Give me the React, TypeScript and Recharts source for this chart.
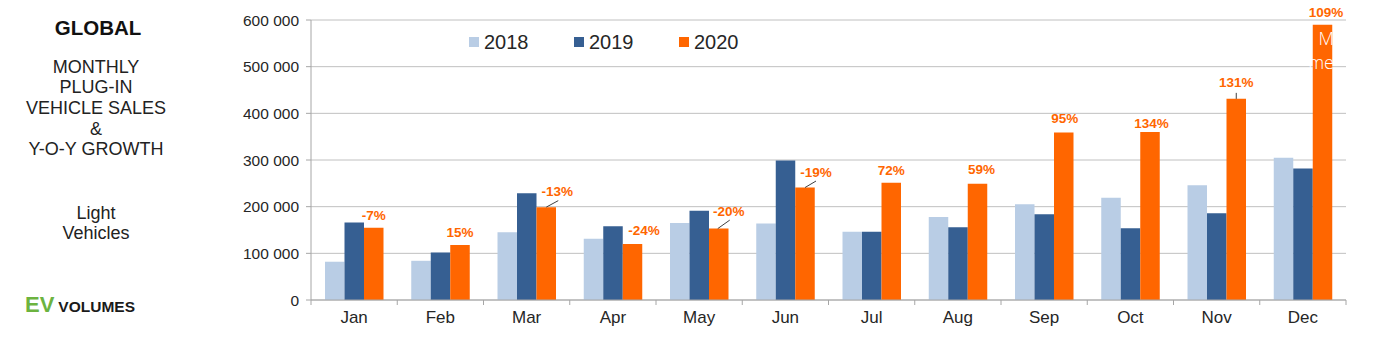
import React from 'react';
import { BarChart, Bar, XAxis, YAxis, CartesianGrid, LabelList } from 'recharts';

const months = ['Jan', 'Feb', 'Mar', 'Apr', 'May', 'Jun', 'Jul', 'Aug', 'Sep', 'Oct', 'Nov', 'Dec'];
const sales2018 = [82000, 84000, 145000, 131000, 165000, 164000, 146000, 178000, 205000, 219000, 246000, 305000];
const sales2019 = [166000, 102000, 229000, 158000, 191000, 299000, 146000, 156000, 184000, 154000, 186000, 282000];
const sales2020 = [155000, 118000, 199000, 120000, 153000, 241000, 251000, 249000, 359000, 360000, 431000, 590000];
const growth = ['-7%', '15%', '-13%', '-24%', '-20%', '-19%', '72%', '59%', '95%', '134%', '131%', '109%'];
const yTicks = [0, 100000, 200000, 300000, 400000, 500000, 600000];
const seriesNames = ['2018', '2019', '2020'];

const data = months.map((m, i) => ({
  month: m,
  s2018: sales2018[i],
  s2019: sales2019[i],
  s2020: sales2020[i],
  growth: growth[i],
}));

const FONT = '"Liberation Sans", Arial, sans-serif';
const C2018 = '#b9cde5';
const C2019 = '#365f92';
const C2020 = '#ff6600';
const AXIS = '#a6a6a6';
const GRID = '#c0c0c0';
const TEXT = '#262626';

const PLOT_LEFT = 311;
const PLOT_RIGHT = 1346;
const BAND = (PLOT_RIGHT - PLOT_LEFT) / 12;

// label placement relative to the top-centre of the 2020 bar
const labelLayout: { dx: number; dy: number; leader?: [number, number, number, number] }[] = [
  { dx: 0, dy: -12 },
  { dx: 0, dy: -12 },
  { dx: 11, dy: -15.5, leader: [0, 0, 12, -6.5] },
  { dx: 11.5, dy: -13.5 },
  { dx: 10, dy: -17, leader: [-1, 0, 11, -8.5] },
  { dx: 11, dy: -15, leader: [0, 0, 11, -6.5] },
  { dx: 0, dy: -12 },
  { dx: 4, dy: -14 },
  { dx: 1, dy: -14 },
  { dx: 1.5, dy: -9 },
  { dx: 0, dy: -16, leader: [0, 0, 0, -6] },
  { dx: 3.5, dy: -12 },
];

const GrowthLabel = (props: any) => {
  const { x, y, width, value } = props;
  let index = props.index;
  if (index === undefined || index === null) index = growth.indexOf(value);
  const l = labelLayout[index] || { dx: 0, dy: -12 };
  const cx = Number(x) + Number(width) / 2;
  const top = Number(y);
  return (
    <g>
      {l.leader && (
        <line
          x1={cx + l.leader[0]}
          y1={top + l.leader[1]}
          x2={cx + l.leader[2]}
          y2={top + l.leader[3]}
          stroke="#404040"
          strokeWidth={1}
        />
      )}
      <text
        x={cx + l.dx}
        y={top + l.dy}
        textAnchor="middle"
        dominantBaseline="central"
        fill={C2020}
        fontFamily={FONT}
        fontWeight="bold"
        fontSize={13.5}
      >
        {value}
      </text>
    </g>
  );
};

const MonthTick = (props: any) => {
  const { x, y, payload, index } = props;
  const last = index === months.length - 1 || payload.value === months[months.length - 1];
  return (
    <g>
      <line x1={x - BAND / 2} x2={x - BAND / 2} y1={y} y2={y + 5} stroke={AXIS} />
      {last && <line x1={x + BAND / 2} x2={x + BAND / 2} y1={y} y2={y + 5} stroke={AXIS} />}
      <text
        x={x}
        y={y + 17}
        textAnchor="middle"
        dominantBaseline="central"
        fill={TEXT}
        fontFamily={FONT}
        fontSize={17}
      >
        {payload.value}
      </text>
    </g>
  );
};

const fmt = (v: number) => String(v).replace(/\B(?=(\d{3})+(?!\d))/g, ' ');

const LegendBlock = () => {
  const colors = [C2018, C2019, C2020];
  return (
    <div style={{ position: 'absolute', top: 31, left: 469, display: 'flex', fontFamily: FONT }}>
      {seriesNames.map((n, i) => (
        <div key={n} style={{ display: 'flex', alignItems: 'center', width: 105, height: 22 }}>
          <div style={{ width: 10, height: 10, background: colors[i], marginRight: 5 }} />
          <span style={{ fontSize: 20, color: TEXT, lineHeight: '22px' }}>{n}</span>
        </div>
      ))}
    </div>
  );
};

const leftLines = [
  { t: 'MONTHLY', y: 67 },
  { t: 'PLUG-IN', y: 87 },
  { t: 'VEHICLE SALES', y: 107.5 },
  { t: '&', y: 128.5 },
  { t: 'Y-O-Y GROWTH', y: 149 },
  { t: 'Light', y: 213 },
  { t: 'Vehicles', y: 233 },
];

export default function App() {
  return (
    <div style={{ position: 'absolute', left: 0, top: 0, width: 1400, height: 337, background: '#fff', fontFamily: FONT }}>
      <div
        style={{
          position: 'absolute', left: 0, width: 196, top: 28, transform: 'translateY(-50%)',
          textAlign: 'center', fontWeight: 'bold', fontSize: 20.5, color: '#111', lineHeight: '22px',
        }}
      >
        GLOBAL
      </div>
      {leftLines.map((l) => (
        <div
          key={l.t}
          style={{
            position: 'absolute', left: 0, width: 192, top: l.y, transform: 'translateY(-50%)',
            textAlign: 'center', fontSize: 18, color: '#222', lineHeight: '20px',
          }}
        >
          {l.t}
        </div>
      ))}
      <div
        style={{
          position: 'absolute', left: 25, top: 306, transform: 'translateY(-50%)',
          display: 'flex', alignItems: 'baseline', fontWeight: 'bold', lineHeight: '24px',
        }}
      >
        <span style={{ color: '#6cb33f', fontSize: 22 }}>EV</span>
        <span style={{ color: '#1a1a1a', fontSize: 15.5, marginLeft: 4 }}>VOLUMES</span>
      </div>
      <div style={{ position: 'absolute', left: 0, top: 0 }}>
        <BarChart
          width={1400}
          height={337}
          data={data}
          margin={{ top: 20, right: 1400 - PLOT_RIGHT, left: PLOT_LEFT - 100, bottom: 7 }}
          barGap={0}
          barSize={19.5}
        >
          <CartesianGrid vertical={false} stroke={GRID} strokeWidth={1} />
          <XAxis
            dataKey="month"
            height={30}
            interval={0}
            tickLine={false}
            tickSize={0}
            tickMargin={0}
            axisLine={{ stroke: AXIS }}
            tick={<MonthTick />}
          />
          <YAxis
            width={100}
            domain={[0, 600000]}
            ticks={yTicks}
            tickFormatter={fmt}
            axisLine={{ stroke: AXIS }}
            tickLine={{ stroke: AXIS }}
            tickSize={5}
            tickMargin={7}
            tick={{ fill: TEXT, fontSize: 15.5, fontFamily: FONT }}
            allowDataOverflow
          />
          <Bar dataKey="s2018" name="2018" fill={C2018} isAnimationActive={false} />
          <Bar dataKey="s2019" name="2019" fill={C2019} isAnimationActive={false} />
          <Bar dataKey="s2020" name="2020" fill={C2020} isAnimationActive={false}>
            <LabelList dataKey="growth" content={<GrowthLabel />} />
          </Bar>
        </BarChart>
      </div>
      <LegendBlock />
      <div
        style={{
          position: 'absolute', right: 1400 - 1334, top: 26, textAlign: 'right',
          color: '#ffffff', fontSize: 18, lineHeight: '24px', fontFamily: '"Open Sans", sans-serif',
          fontWeight: 300, whiteSpace: 'nowrap', pointerEvents: 'none',
        }}
      >
        <div style={{ height: 24 }}>M</div>
        <div style={{ height: 24 }}>me</div>
      </div>
    </div>
  );
}
